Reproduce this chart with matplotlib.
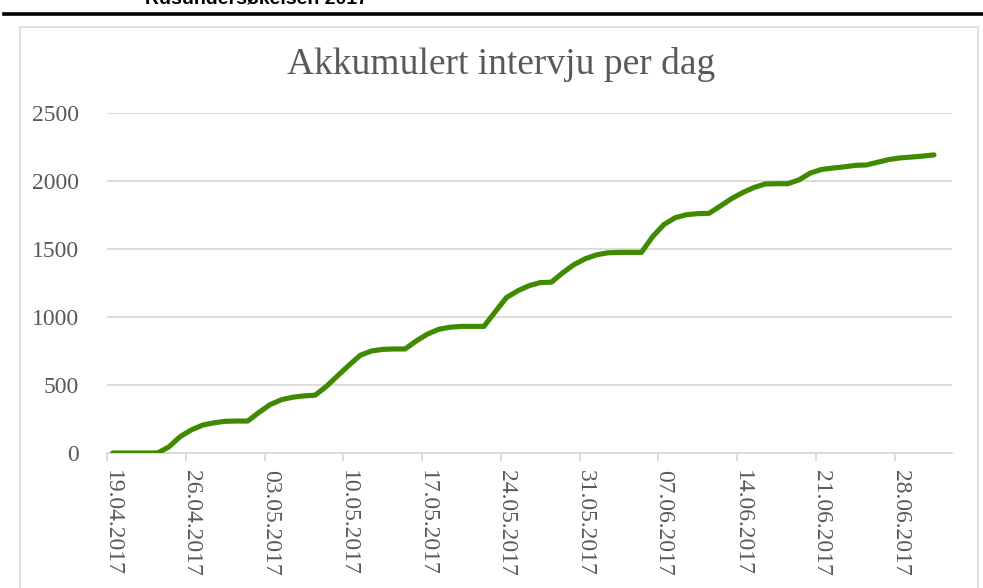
import matplotlib
matplotlib.use("Agg")
import matplotlib.pyplot as plt
import numpy as np
import pandas as pd
from matplotlib.patches import Rectangle
from matplotlib.lines import Line2D

# ---- data ----
start_date = "2017-04-19"
cumulative = [0, 0, 0, 0, 0, 45, 120, 170, 205, 222, 233, 235, 235, 298, 356,
              392, 410, 420, 425, 490, 568, 645, 718, 750, 762, 765, 765, 825,
              875, 910, 925, 931, 931, 931, 1038, 1143, 1192, 1230, 1253, 1256,
              1325, 1385, 1428, 1457, 1472, 1475, 1475, 1475, 1592, 1680, 1730,
              1752, 1760, 1762, 1815, 1870, 1915, 1952, 1978, 1980, 1980, 2008,
              2058, 2085, 2095, 2104, 2115, 2118, 2138, 2158, 2170, 2176, 2183,
              2192]
y_ticks = [0, 500, 1000, 1500, 2000, 2500]
title = "Akkumulert intervju per dag"
header = "Rusundersøkelsen 2017"

dates = pd.date_range(start_date, periods=len(cumulative), freq="D")
x = np.arange(len(cumulative))
label_idx = x[::7]
labels = [dates[i].strftime("%d.%m.%Y") for i in label_idx]

W, H = 983, 588
fig = plt.figure(figsize=(W / 100, H / 100), dpi=100)
fig.patch.set_facecolor("white")

serif = ["Liberation Serif", "DejaVu Serif"]
grey_txt = "#595959"
grid_c = "#d9d9d9"

# header text (cut off at top, as in the reference) and thick black rule
fig.text(145 / W, 1 - 4 / H, header, ha="left", va="baseline",
         fontsize=14, fontweight="bold", family=["Liberation Sans", "DejaVu Sans"],
         color="black")
fig.add_artist(Line2D([4 / W, 1.0], [1 - 13.5 / H, 1 - 13.5 / H],
                      transform=fig.transFigure, color="black", lw=2.6))
# chart frame
fig.add_artist(Rectangle((20 / W, -0.01), (978 - 20) / W, (588 - 27) / H + 0.01,
                         transform=fig.transFigure, fill=False,
                         edgecolor=grid_c, lw=1.2))

ax = fig.add_axes([107 / W, (H - 453) / H, (952 - 107) / W, 340 / H])
ax.plot(x, cumulative, color="#3f8a00", lw=3.7, solid_capstyle="round",
        solid_joinstyle="round", zorder=3)

ax.set_ylim(0, 2500)
ax.set_xlim(-0.5, 74.6)
ax.set_yticks(y_ticks)
ax.set_yticklabels([str(v) for v in y_ticks], family=serif, fontsize=17,
                   color=grey_txt)
ax.tick_params(axis="y", length=0, pad=20)
ax.grid(axis="y", color=grid_c, lw=1.3, zorder=0)

ax.set_xticks(label_idx)
ax.set_xticklabels(labels, rotation=-90, family=serif, fontsize=17,
                   color=grey_txt, ha="center", va="top")
ax.tick_params(axis="x", which="major", length=0, pad=12)
ax.set_xticks(label_idx - 0.5, minor=True)
ax.tick_params(axis="x", which="minor", length=6, width=1.3, color=grid_c)

for s in ["top", "right", "left"]:
    ax.spines[s].set_visible(False)
ax.spines["bottom"].set_color(grid_c)
ax.spines["bottom"].set_linewidth(1.3)

fig.text(501 / W, 1 - 74 / H, title, ha="center", va="baseline",
         fontsize=27, family=serif, color=grey_txt)

fig.savefig("out.png", dpi=100, facecolor="white")
